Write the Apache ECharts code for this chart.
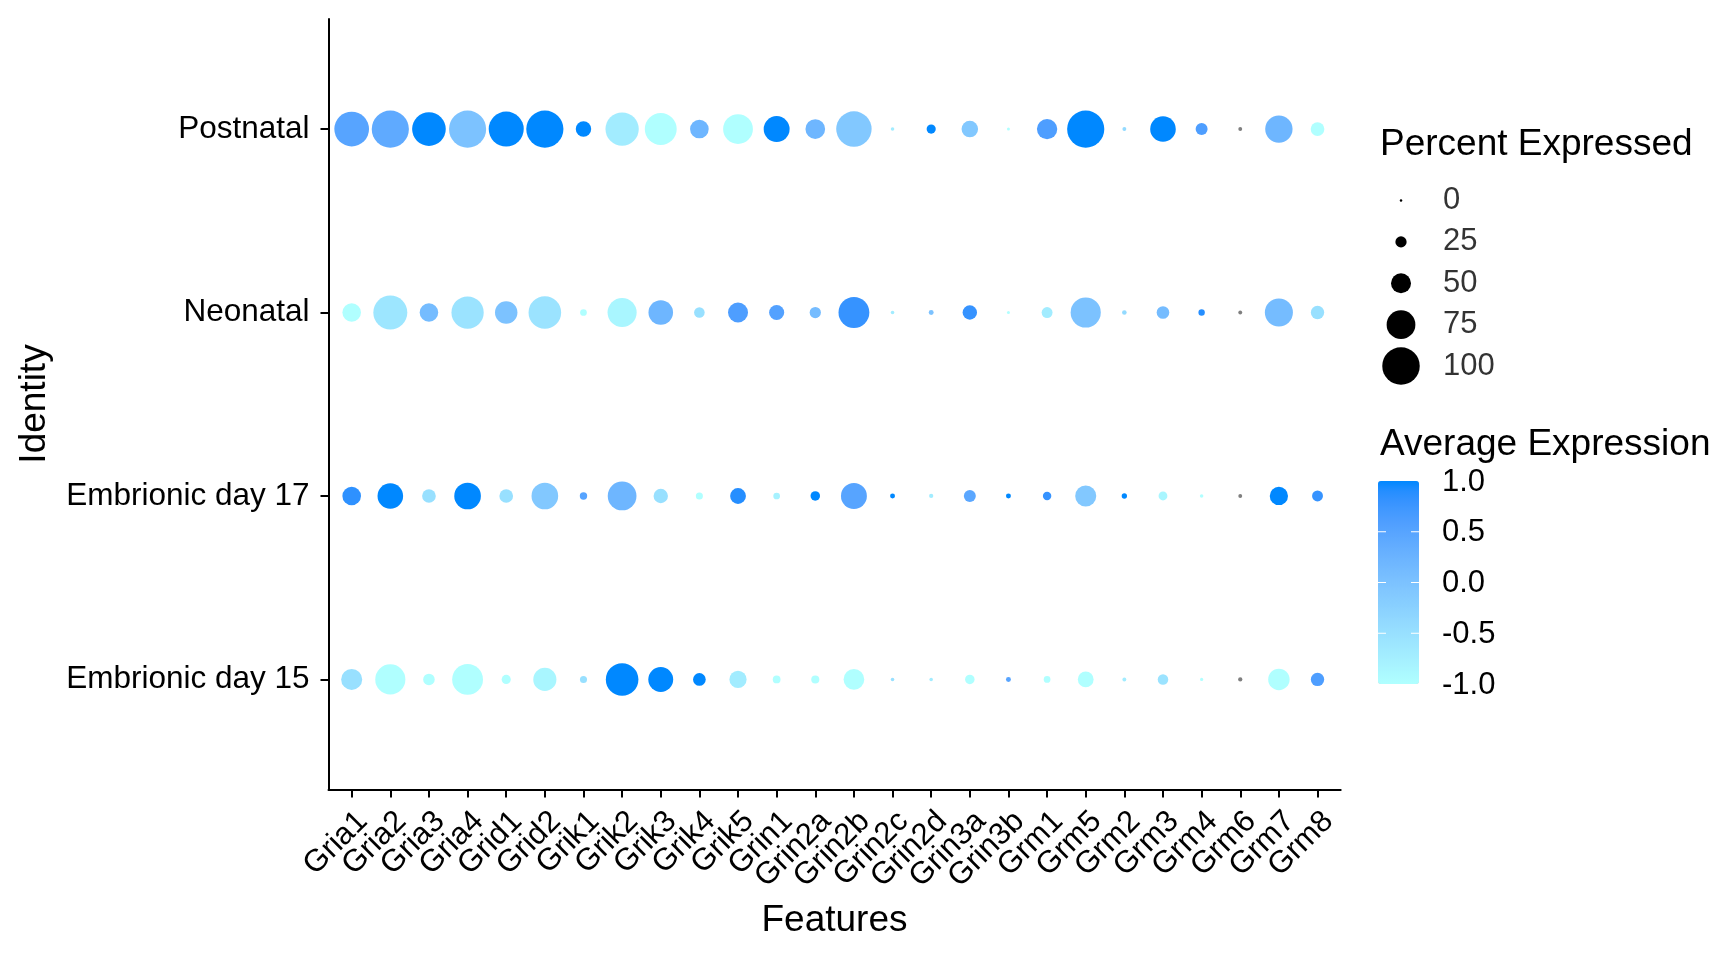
<!DOCTYPE html>
<html>
<head>
<meta charset="utf-8">
<script src="https://cdn.jsdelivr.net/npm/echarts@6/dist/echarts.min.js"></script>
<style>
html,body{margin:0;padding:0;background:#fff;}
#chart{width:1728px;height:960px;}
</style>
</head>
<body>
<div id="chart"></div>
<script>
// ---- data ----
const features = ['Gria1','Gria2','Gria3','Gria4','Grid1','Grid2','Grik1','Grik2','Grik3','Grik4','Grik5','Grin1','Grin2a','Grin2b','Grin2c','Grin2d','Grin3a','Grin3b','Grm1','Grm5','Grm2','Grm3','Grm4','Grm6','Grm7','Grm8'];
const identities = ['Embrionic day 15','Embrionic day 17','Neonatal','Postnatal'];

const pctE15       = [53,79,26,81,19,59,13,86,64,29,42,15,16,52,3,3,20,7,12,38,4,23,2,5,54,31];
const pctE17       = [46,66,32,69,32,69,14,75,34,13,38,12,20,67,7,5,27,7,17,53,8,18,3,4,45,24];
const pctNeonatal  = [46,90,46,85,57,86,12,76,63,23,50,36,25,81,3,7,34,1.5,24,79,6,29,11,4,73,31];
const pctPostnatal = [92,99,89,99,93,99,37,88,84,46,78,67,49,94,3,19,40,1.5,51,99,4,66,27,4,71,32];

const avgE15       = [-0.5,-1,-1,-1,-1,-0.85,-0.5,1,1,1,-0.7,-1,-1,-1,-0.5,-0.7,-1,0.5,-1,-1,-0.7,-0.55,-1,null,-1,0.6];
const avgE17       = [0.85,1,-0.5,1,-0.5,-0.1,0.5,0.2,-0.5,-1,0.9,-0.8,1,0.5,1,-0.7,0.45,1,0.8,-0.1,1,-0.85,-1,null,1,0.8];
const avgNeonatal  = [-1,-0.6,0.1,-0.55,0,-0.55,-1,-0.85,0.2,-0.5,0.6,0.55,0.1,0.8,-0.7,0,0.8,-1,-0.7,0,-0.4,0.1,0.9,null,0.1,-0.5];
const avgPostnatal = [0.5,0.4,1,0,1,1,1,-0.7,-1,0.2,-1,1,0.2,-0.1,-0.7,1,-0.1,-1,0.6,1,-0.4,1,0.6,null,0.2,-1];

const sizeBreaks = [0,25,50,75,100];
const colorTicks = [1.0,0.5,0.0,-0.5,-1.0];
const colorTickLabels = ['1.0','0.5','0.0','-0.5','-1.0'];

// ---- styling helpers ----
const FONT = '"Liberation Sans", Arial, Helvetica, sans-serif';
const LOW = '#B0FFFF', HIGH = '#0088FF', NA_COL = '#7F7F7F';
function sizeOf(p){ return 2.5 + 0.35 * p; }

function hex2rgb(h){h=h.replace('#','');return [parseInt(h.substr(0,2),16),parseInt(h.substr(2,2),16),parseInt(h.substr(4,2),16)];}
function toLin(c){c/=255;return c<=0.04045?c/12.92:Math.pow((c+0.055)/1.055,2.4);}
function fromLin(c){const v=c<=0.0031308?12.92*c:1.055*Math.pow(c,1/2.4)-0.055;return Math.max(0,Math.min(255,Math.round(v*255)));}
const Xn=0.95047,Yn=1,Zn=1.08883;
function f(t){return t>0.008856?Math.cbrt(t):7.787*t+16/116;}
function finv(t){return t>0.206893?t*t*t:(t-16/116)/7.787;}
function rgb2lab(rgb){const [r,g,b]=rgb.map(toLin);
 const X=r*0.4124+g*0.3576+b*0.1805,Y=r*0.2126+g*0.7152+b*0.0722,Z=r*0.0193+g*0.1192+b*0.9505;
 const fx=f(X/Xn),fy=f(Y/Yn),fz=f(Z/Zn);return [116*fy-16,500*(fx-fy),200*(fy-fz)];}
function lab2hex(lab){const fy=(lab[0]+16)/116,fx=fy+lab[1]/500,fz=fy-lab[2]/200;
 const X=Xn*finv(fx),Y=Yn*finv(fy),Z=Zn*finv(fz);
 const r=X*3.2406+Y*-1.5372+Z*-0.4986,g=X*-0.9689+Y*1.8758+Z*0.0415,b=X*0.0557+Y*-0.2040+Z*1.0570;
 return '#'+[r,g,b].map(fromLin).map(v=>v.toString(16).padStart(2,'0')).join('');}
const labLo=rgb2lab(hex2rgb(LOW)),labHi=rgb2lab(hex2rgb(HIGH));
const ramp=[];for(let i=0;i<=20;i++){const t=i/20;ramp.push(lab2hex(labLo.map((v,k)=>v+(labHi[k]-v)*t)));}

// ---- build series data ----
const pctRows=[pctE15,pctE17,pctNeonatal,pctPostnatal];
const avgRows=[avgE15,avgE17,avgNeonatal,avgPostnatal];
const dots=[],naDots=[];
pctRows.forEach((row,yi)=>row.forEach((p,xi)=>{
  const a=avgRows[yi][xi];
  if(a===null) naDots.push([xi,yi,p]); else dots.push([xi,yi,p,a]);
}));

// layout (px)
const G={left:328.5,right:1728-1340.7,top:19,bottom:960-789.5};
const CB={left:1378,top:481,w:41,h:203};

const graphics=[];
graphics.push({type:'text',left:1380,top:147-21,style:{text:'Percent Expressed',font:'37px '+FONT,fill:'#000'}});
graphics.push({type:'text',left:1380,top:447-21,style:{text:'Average Expression',font:'37px '+FONT,fill:'#000'}});
graphics.push({type:'text',x:834.5,y:921,style:{text:'Features',font:'37px '+FONT,fill:'#000',align:'center',verticalAlign:'middle'}});
graphics.push({type:'text',x:35,y:404,rotation:Math.PI/2,style:{text:'Identity',font:'37px '+FONT,fill:'#000',align:'center',verticalAlign:'middle'}});
colorTicks.forEach((v,i)=>{
  const y=CB.top+(1-v)/2*CB.h;
  graphics.push({type:'text',x:1442,y:y+1,style:{text:colorTickLabels[i],font:'31px '+FONT,fill:'#000',align:'left',verticalAlign:'middle'}});
  if(i>0 && i<colorTicks.length-1){
    graphics.push({type:'line',z:100,shape:{x1:CB.left,y1:y,x2:CB.left+8,y2:y},style:{stroke:'#fff',lineWidth:1}});
    graphics.push({type:'line',z:100,shape:{x1:CB.left+CB.w-8,y1:y,x2:CB.left+CB.w,y2:y},style:{stroke:'#fff',lineWidth:1}});
  }
});

// two overlapping bottom axes (even / odd features) so no tick label gets auto-hidden
const evenIdx=features.map((_,i)=>i).filter(i=>i%2===0);
const oddIdx=features.map((_,i)=>i).filter(i=>i%2===1);
function featureAxis(vals,showLine){
  return {type:'value',gridIndex:0,position:'bottom',offset:0,min:-0.6,max:25.6,
    axisLine:{show:showLine,onZero:false,lineStyle:{color:'#000',width:2}},
    axisTick:{show:true,length:8,lineStyle:{color:'#000',width:2},customValues:vals},
    axisLabel:{show:true,customValues:vals,rotate:45,margin:16,align:'right',verticalAlign:'top',
      showMinLabel:true,showMaxLabel:true,hideOverlap:false,
      fontSize:31,fontFamily:FONT,color:'#000',formatter:v=>features[Math.round(v)]},
    splitLine:{show:false}};
}
const option={
  backgroundColor:'#fff',
  animation:false,
  grid:[
    {left:G.left,right:G.right,top:G.top,bottom:G.bottom,containLabel:false},
    {left:1401,width:42,top:200.5,height:165.5,containLabel:false}
  ],
  xAxis:[
    featureAxis(evenIdx,true),
    {type:'value',gridIndex:1,min:0,max:1,show:false},
    featureAxis(oddIdx,false)
  ],
  yAxis:[
    {type:'value',gridIndex:0,min:-0.6,max:3.6,
     axisLine:{show:true,onZero:false,lineStyle:{color:'#000',width:2}},
     axisTick:{show:true,length:8,lineStyle:{color:'#000',width:2},customValues:[0,1,2,3]},
     axisLabel:{show:true,customValues:[0,1,2,3],margin:19,fontSize:31.5,fontFamily:FONT,color:'#000',
       showMinLabel:true,showMaxLabel:true,
       formatter:v=>identities[Math.round(v)]},
     splitLine:{show:false}},
    {type:'value',gridIndex:1,min:0,max:4,inverse:true,show:false}
  ],
  visualMap:[{
    type:'continuous',min:-1,max:1,dimension:3,seriesIndex:0,
    inRange:{color:ramp},
    left:CB.left,top:CB.top,itemWidth:CB.w,itemHeight:CB.h,padding:0,
    calculable:false,text:null,showLabel:false,hoverLink:false,realtime:false
  }],
  series:[
    {type:'scatter',xAxisIndex:0,yAxisIndex:0,data:dots,symbol:'circle',
     symbolSize:v=>sizeOf(v[2]),itemStyle:{opacity:1},z:3},
    {type:'scatter',xAxisIndex:0,yAxisIndex:0,data:naDots,symbol:'circle',
     symbolSize:v=>sizeOf(v[2]),itemStyle:{color:NA_COL,opacity:1},z:3},
    {type:'scatter',xAxisIndex:1,yAxisIndex:1,data:sizeBreaks.map((b,i)=>[0,i,b]),symbol:'circle',
     symbolSize:v=>sizeOf(v[2]),itemStyle:{color:'#000',opacity:1},silent:true},
    {type:'scatter',xAxisIndex:1,yAxisIndex:1,data:sizeBreaks.map((b,i)=>[1,i,b]),symbolSize:0,silent:true,
     label:{show:true,position:'inside',align:'left',verticalAlign:'middle',formatter:p=>String(p.value[2]),
       fontSize:31,fontFamily:FONT,color:'#000'}}
  ],
  graphic:graphics
};
const chart=echarts.init(document.getElementById('chart'),null,{renderer:'canvas'});
chart.setOption(option);
</script>
</body>
</html>
